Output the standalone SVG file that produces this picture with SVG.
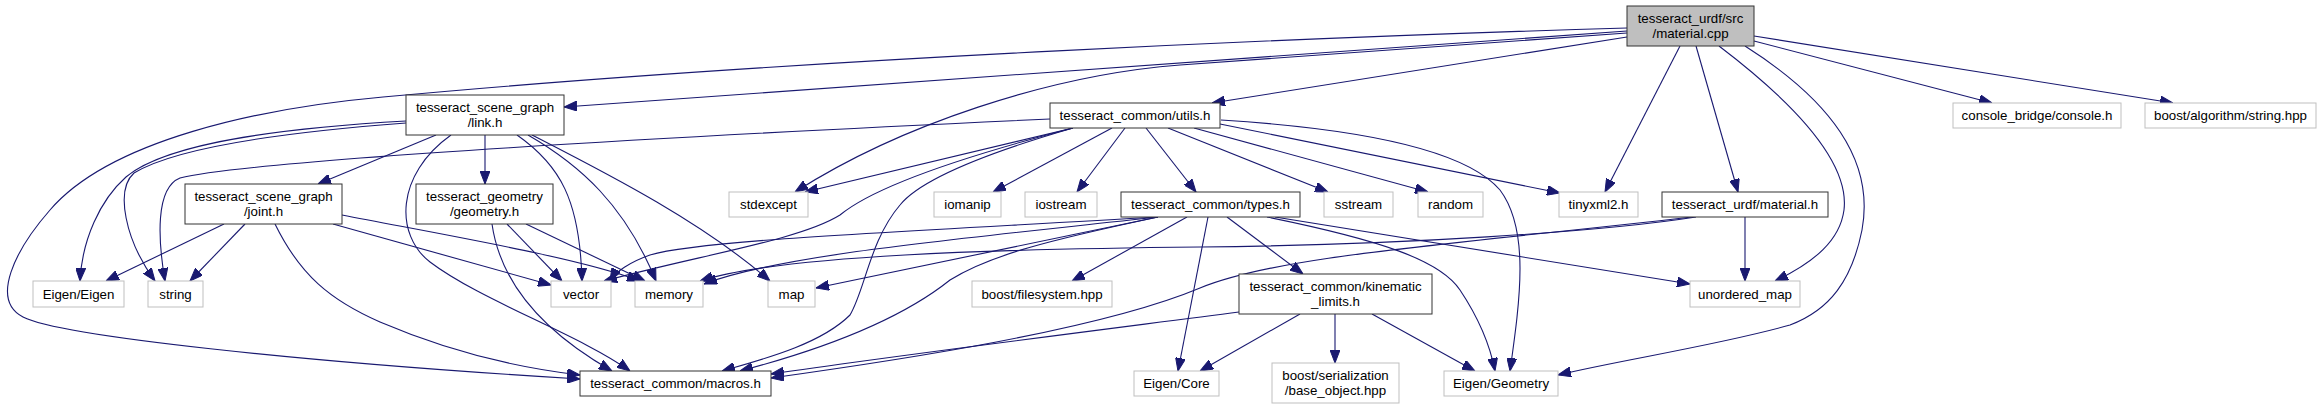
<svg xmlns="http://www.w3.org/2000/svg" width="2321" height="409" viewBox="0 0 2321 409">
<defs>
<style>
.n rect{fill:#ffffff;stroke:#333333;stroke-width:1}
.x rect{fill:#ffffff;stroke:#bfbfbf;stroke-width:1}
.m rect{fill:#bfbfbf;stroke:#333333;stroke-width:1}
text{font-family:"Liberation Sans",Arial,Helvetica,sans-serif;font-size:13.3px;text-anchor:middle;fill:#000000}
#edges path{fill:none;stroke:#191970;stroke-width:1.1;marker-end:url(#ah)}
</style>
<marker id="ah" markerUnits="userSpaceOnUse" viewBox="0 0 13 10" refX="13" refY="5" markerWidth="13" markerHeight="10" orient="auto">
<path d="M0,0 L13,5 L0,10 z" fill="#191970" stroke="#191970" stroke-width="1"/>
</marker>
</defs>
<rect width="2321" height="409" fill="#ffffff"/>
<g id="edges">
<path d="M1627,28 C1350,36 800,58 383,97 C260,108 110,140 50,210 C15,250 -10,300 23,317 C60,336 300,362 580,379"/>
<path d="M1627,31 L564,107"/>
<path d="M1627,33 L1180,65 C1050,75 900,125 795,192"/>
<path d="M1627,37 L1212,103"/>
<path d="M1680,46 L1605,192"/>
<path d="M1696,46 L1738,192"/>
<path d="M1719,46 C1790,100 1850,160 1844,210 C1840,240 1815,262 1775,281"/>
<path d="M1745,46 C1830,100 1875,160 1862,230 C1852,280 1830,310 1790,325 C1720,345 1620,360 1558,375"/>
<path d="M1754,41 L1992,103"/>
<path d="M1754,36 L2173,103"/>
<path d="M436,135 L318,184"/>
<path d="M485,135 L485,184"/>
<path d="M406,121 C300,127 170,140 126,177 C100,200 82,240 80,281"/>
<path d="M406,123 C300,131 180,145 134,173 C115,190 125,240 155,281"/>
<path d="M451,135 C395,175 395,235 430,262 C480,300 580,335 630,371"/>
<path d="M517,135 C560,165 580,200 582,281"/>
<path d="M528,135 C580,165 625,205 656,281"/>
<path d="M532,135 C600,170 700,220 770,281"/>
<path d="M224,224 L106,281"/>
<path d="M245,224 L190,281"/>
<path d="M275,224 C300,275 330,300 380,322 C450,352 520,368 580,375"/>
<path d="M333,224 L551,285"/>
<path d="M342,215 C450,236 580,258 640,281"/>
<path d="M492,224 C500,280 540,330 612,371"/>
<path d="M507,224 L562,281"/>
<path d="M526,224 L645,281"/>
<path d="M1073,128 L805,192"/>
<path d="M1050,119 C700,135 250,160 180,178 C155,188 158,240 165,281"/>
<path d="M1073,128 C950,160 870,190 840,215 C800,240 700,255 604,281"/>
<path d="M1073,128 C980,155 920,180 900,205 C870,240 865,290 850,315 C820,345 760,360 722,371"/>
<path d="M1112,128 L993,192"/>
<path d="M1125,128 L1077,192"/>
<path d="M1146,128 L1196,192"/>
<path d="M1168,128 L1328,192"/>
<path d="M1194,128 L1428,192"/>
<path d="M1220,124 L1560,193"/>
<path d="M1221,120 C1380,130 1470,155 1500,190 C1530,230 1520,300 1510,371"/>
<path d="M1158,217 C900,232 700,240 650,255 C630,262 615,272 610,281"/>
<path d="M1158,217 C950,240 780,255 704,284"/>
<path d="M1158,217 L816,288"/>
<path d="M1187,217 L1072,281"/>
<path d="M1208,217 L1178,371"/>
<path d="M1227,217 L1303,274"/>
<path d="M1267,217 C1380,240 1440,260 1460,290 C1480,320 1490,345 1495,371"/>
<path d="M1275,217 L1690,284"/>
<path d="M1158,217 C1050,240 990,255 950,280 C900,320 820,350 740,371"/>
<path d="M1300,314 L1200,371"/>
<path d="M1335,314 L1335,363"/>
<path d="M1372,314 L1475,371"/>
<path d="M1239,312 C1100,330 900,355 771,374"/>
<path d="M1745,217 L1745,281"/>
<path d="M1696,217 C1600,232 1400,245 1200,247 C1000,249 780,255 700,281"/>
<path d="M1692,217 C1450,245 1280,255 1200,288 C1100,330 900,360 771,378"/>
</g>
<g id="material_cpp" class="m"><rect x="1627" y="6" width="127" height="40"/><text x="1690.5" y="23">tesseract_urdf/src</text><text x="1690.5" y="38">/material.cpp</text></g>
<g id="link_h" class="n"><rect x="406" y="95" width="158" height="40"/><text x="485" y="112">tesseract_scene_graph</text><text x="485" y="127">/link.h</text></g>
<g id="utils_h" class="n"><rect x="1050" y="103" width="170" height="25"/><text x="1135" y="120">tesseract_common/utils.h</text></g>
<g id="console_h" class="x"><rect x="1953" y="103" width="168" height="25"/><text x="2037" y="120">console_bridge/console.h</text></g>
<g id="boost_string" class="x"><rect x="2145" y="103" width="171" height="25"/><text x="2230.5" y="120">boost/algorithm/string.hpp</text></g>
<g id="joint_h" class="n"><rect x="185" y="184" width="157" height="40"/><text x="263.5" y="201">tesseract_scene_graph</text><text x="263.5" y="216">/joint.h</text></g>
<g id="geometry_h" class="n"><rect x="416" y="184" width="137" height="40"/><text x="484.5" y="201">tesseract_geometry</text><text x="484.5" y="216">/geometry.h</text></g>
<g id="stdexcept" class="x"><rect x="729" y="192" width="79" height="25"/><text x="768.5" y="209">stdexcept</text></g>
<g id="iomanip" class="x"><rect x="934" y="192" width="67" height="25"/><text x="967.5" y="209">iomanip</text></g>
<g id="iostream" class="x"><rect x="1025" y="192" width="72" height="25"/><text x="1061" y="209">iostream</text></g>
<g id="types_h" class="n"><rect x="1121" y="192" width="179" height="25"/><text x="1210.5" y="209">tesseract_common/types.h</text></g>
<g id="sstream" class="x"><rect x="1324" y="192" width="69" height="25"/><text x="1358.5" y="209">sstream</text></g>
<g id="random" class="x"><rect x="1418" y="192" width="65" height="25"/><text x="1450.5" y="209">random</text></g>
<g id="tinyxml2_h" class="x"><rect x="1559" y="192" width="79" height="25"/><text x="1598.5" y="209">tinyxml2.h</text></g>
<g id="material_h" class="n"><rect x="1662" y="192" width="166" height="25"/><text x="1745" y="209">tesseract_urdf/material.h</text></g>
<g id="eigen_eigen" class="x"><rect x="33" y="281" width="91" height="26"/><text x="78.5" y="298.5">Eigen/Eigen</text></g>
<g id="string" class="x"><rect x="148" y="281" width="55" height="26"/><text x="175.5" y="298.5">string</text></g>
<g id="vector" class="x"><rect x="551" y="281" width="60" height="26"/><text x="581" y="298.5">vector</text></g>
<g id="memory" class="x"><rect x="635" y="281" width="68" height="26"/><text x="669" y="298.5">memory</text></g>
<g id="map" class="x"><rect x="768" y="281" width="47" height="26"/><text x="791.5" y="298.5">map</text></g>
<g id="boost_filesystem" class="x"><rect x="972" y="281" width="140" height="26"/><text x="1042" y="298.5">boost/filesystem.hpp</text></g>
<g id="unordered_map" class="x"><rect x="1690" y="281" width="110" height="26"/><text x="1745" y="298.5">unordered_map</text></g>
<g id="kinematic_limits_h" class="n"><rect x="1239" y="274" width="193" height="40"/><text x="1335.5" y="291">tesseract_common/kinematic</text><text x="1335.5" y="306">_limits.h</text></g>
<g id="macros_h" class="n"><rect x="580" y="371" width="191" height="25"/><text x="675.5" y="388">tesseract_common/macros.h</text></g>
<g id="eigen_core" class="x"><rect x="1134" y="371" width="85" height="25"/><text x="1176.5" y="388">Eigen/Core</text></g>
<g id="boost_serialization" class="x"><rect x="1272" y="363" width="127" height="40"/><text x="1335.5" y="380">boost/serialization</text><text x="1335.5" y="395">/base_object.hpp</text></g>
<g id="eigen_geometry" class="x"><rect x="1444" y="371" width="114" height="25"/><text x="1501" y="388">Eigen/Geometry</text></g>
</svg>
